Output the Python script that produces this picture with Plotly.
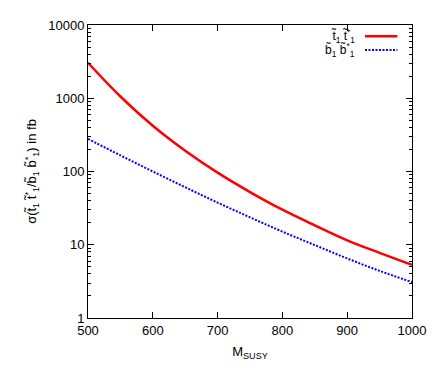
import plotly.graph_objects as go

# Массы (ГэВ) и сечения (фб)
m_susy = [500, 550, 600, 650, 700, 750, 800, 850, 900, 950, 1000]
sigma_stop = [3050, 1057, 421, 192, 96.4, 52.4, 30.1, 18.4, 11.5, 7.74, 5.3]
sigma_sbottom = [279, 166, 100, 61, 37.6, 23.7, 15.1, 9.9, 6.5, 4.4, 3.09]

x_ticks = [500, 600, 700, 800, 900, 1000]
y_ticks = [1, 10, 100, 1000, 10000]
y_ticklabels = ["1", "10", "100", "1000", "10000"]

legend_stop = "t\u0303<sub>1</sub> t\u0303<sup>*</sup><sub>1</sub>"
legend_sbottom = "b\u0303<sub>1</sub> b\u0303<sup>*</sup><sub>1</sub>"

fig = go.Figure()
fig.add_trace(go.Scatter(x=m_susy, y=sigma_stop, mode="lines", line_shape="spline",
                         line=dict(color="#ff0000", width=2.5), showlegend=False))
fig.add_trace(go.Scatter(x=m_susy, y=sigma_sbottom, mode="lines", line_shape="spline",
                         line=dict(color="#0000ff", width=2, dash="2px,1.5px"), showlegend=False))

# Легенда в стиле gnuplot: текст слева, образец линии справа
for yy, txt, col, w, dash in [(0.962, legend_stop, "#ff0000", 2.5, "solid"),
                              (0.915, legend_sbottom, "#0000ff", 2, "2px,1.5px")]:
    fig.add_annotation(x=0.83, y=yy, xref="paper", yref="paper", text=txt,
                       showarrow=False, xanchor="right", yanchor="middle",
                       font=dict(size=12, color="black"))
    fig.add_shape(type="line", xref="paper", yref="paper", x0=0.855, x1=0.955,
                  y0=yy, y1=yy, line=dict(color=col, width=w, dash=dash))

axis_common = dict(showline=True, linecolor="black", linewidth=1, mirror="ticks",
                   ticks="inside", tickcolor="black", showgrid=False, zeroline=False,
                   tickfont=dict(size=13, color="black"))

fig.update_xaxes(range=[500, 1000], tickvals=x_ticks, ticklen=6,
                 title=dict(text="M<sub>SUSY</sub>", font=dict(size=13, color="black"), standoff=10),
                 **axis_common)
fig.update_yaxes(type="log", range=[0, 4], tickvals=y_ticks, ticktext=y_ticklabels, ticklen=6,
                 minor=dict(ticks="inside", ticklen=3, tickcolor="black", dtick="D1", showgrid=False),
                 title=dict(text="\u03c3(t\u0303<sub>1</sub> t\u0303<sup>*</sup><sub>1</sub>/b\u0303<sub>1</sub> b\u0303<sup>*</sup><sub>1</sub>) in fb",
                            font=dict(size=13, color="black"), standoff=8),
                 **axis_common)

# Страница имеет отступ body 8px, поэтому фигура чуть меньше окна
fig.update_layout(width=428, height=374, margin=dict(l=80, r=18, t=10, b=64),
                  plot_bgcolor="white", paper_bgcolor="white",
                  font=dict(family="Liberation Sans, Arial", size=13, color="black"))

fig.write_html("out.html")
